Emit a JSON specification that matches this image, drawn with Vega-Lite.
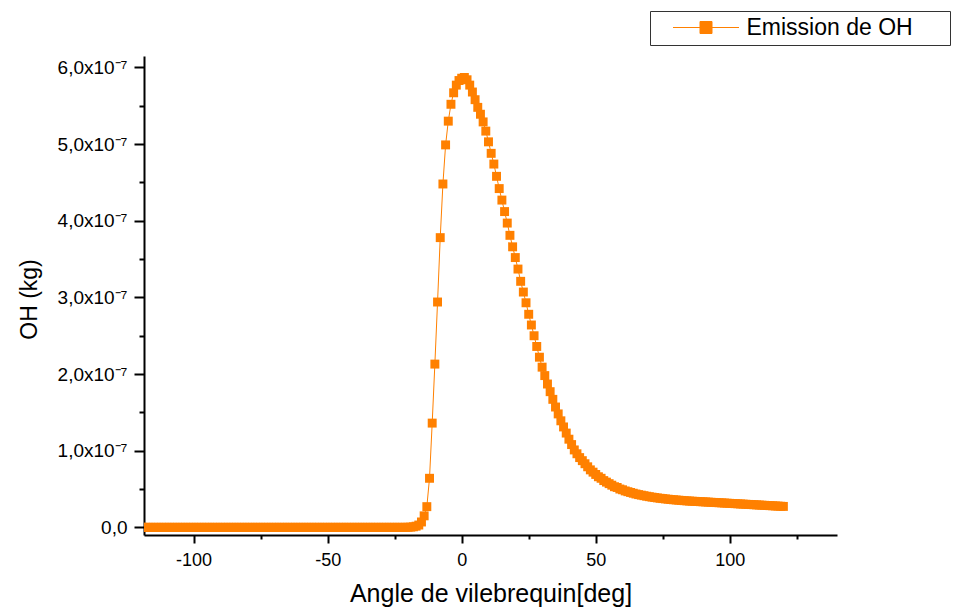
{
  "$schema": "https://vega.github.io/schema/vega-lite/v6.json",
  "width": 693,
  "height": 479,
  "autosize": "none",
  "padding": {"left": 144, "top": 56, "right": 118, "bottom": 73},
  "background": "white",
  "config": {"view": {"stroke": null}, "font": "Liberation Sans"},
  "data": {"values": [
    {"a":-120,"oh":0},{"a":-119,"oh":0},{"a":-118,"oh":0},{"a":-117,"oh":0},{"a":-116,"oh":0},{"a":-115,"oh":0},{"a":-114,"oh":0},{"a":-113,"oh":0},{"a":-112,"oh":0},{"a":-111,"oh":0},
    {"a":-110,"oh":0},{"a":-109,"oh":0},{"a":-108,"oh":0},{"a":-107,"oh":0},{"a":-106,"oh":0},{"a":-105,"oh":0},{"a":-104,"oh":0},{"a":-103,"oh":0},{"a":-102,"oh":0},{"a":-101,"oh":0},
    {"a":-100,"oh":0},{"a":-99,"oh":0},{"a":-98,"oh":0},{"a":-97,"oh":0},{"a":-96,"oh":0},{"a":-95,"oh":0},{"a":-94,"oh":0},{"a":-93,"oh":0},{"a":-92,"oh":0},{"a":-91,"oh":0},
    {"a":-90,"oh":0},{"a":-89,"oh":0},{"a":-88,"oh":0},{"a":-87,"oh":0},{"a":-86,"oh":0},{"a":-85,"oh":0},{"a":-84,"oh":0},{"a":-83,"oh":0},{"a":-82,"oh":0},{"a":-81,"oh":0},
    {"a":-80,"oh":0},{"a":-79,"oh":0},{"a":-78,"oh":0},{"a":-77,"oh":0},{"a":-76,"oh":0},{"a":-75,"oh":0},{"a":-74,"oh":0},{"a":-73,"oh":0},{"a":-72,"oh":0},{"a":-71,"oh":0},
    {"a":-70,"oh":0},{"a":-69,"oh":0},{"a":-68,"oh":0},{"a":-67,"oh":0},{"a":-66,"oh":0},{"a":-65,"oh":0},{"a":-64,"oh":0},{"a":-63,"oh":0},{"a":-62,"oh":0},{"a":-61,"oh":0},
    {"a":-60,"oh":0},{"a":-59,"oh":0},{"a":-58,"oh":0},{"a":-57,"oh":0},{"a":-56,"oh":0},{"a":-55,"oh":0},{"a":-54,"oh":0},{"a":-53,"oh":0},{"a":-52,"oh":0},{"a":-51,"oh":0},
    {"a":-50,"oh":0},{"a":-49,"oh":0},{"a":-48,"oh":0},{"a":-47,"oh":0},{"a":-46,"oh":0},{"a":-45,"oh":0},{"a":-44,"oh":0},{"a":-43,"oh":0},{"a":-42,"oh":0},{"a":-41,"oh":0},
    {"a":-40,"oh":0},{"a":-39,"oh":0},{"a":-38,"oh":0},{"a":-37,"oh":0},{"a":-36,"oh":0},{"a":-35,"oh":0},{"a":-34,"oh":0},{"a":-33,"oh":0},{"a":-32,"oh":0},{"a":-31,"oh":0},
    {"a":-30,"oh":0},{"a":-29,"oh":0},{"a":-28,"oh":0},{"a":-27,"oh":0},{"a":-26,"oh":0},{"a":-25,"oh":0},{"a":-24,"oh":0},{"a":-23,"oh":0},{"a":-22,"oh":0},{"a":-21,"oh":0},
    {"a":-20,"oh":1e-10},{"a":-19,"oh":3e-10},{"a":-18,"oh":7e-10},{"a":-17,"oh":1.5e-9},{"a":-16,"oh":3e-9},{"a":-15,"oh":7e-9},{"a":-14,"oh":1.5e-8},{"a":-13,"oh":2.7e-8},{"a":-12,"oh":6.4e-8},{"a":-11,"oh":1.36e-7},
    {"a":-10,"oh":2.13e-7},{"a":-9,"oh":2.94e-7},{"a":-8,"oh":3.78e-7},{"a":-7,"oh":4.48e-7},{"a":-6,"oh":4.99e-7},{"a":-5,"oh":5.30e-7},{"a":-4,"oh":5.52e-7},{"a":-3,"oh":5.67e-7},{"a":-2,"oh":5.77e-7},{"a":-1,"oh":5.83e-7},
    {"a":0,"oh":5.86e-7},{"a":1,"oh":5.87e-7},{"a":2,"oh":5.84e-7},{"a":3,"oh":5.77e-7},{"a":4,"oh":5.68e-7},{"a":5,"oh":5.58e-7},{"a":6,"oh":5.48e-7},{"a":7,"oh":5.39e-7},{"a":8,"oh":5.29e-7},{"a":9,"oh":5.17e-7},
    {"a":10,"oh":5.03e-7},{"a":11,"oh":4.88e-7},{"a":12,"oh":4.74e-7},{"a":13,"oh":4.58e-7},{"a":14,"oh":4.42e-7},{"a":15,"oh":4.27e-7},{"a":16,"oh":4.12e-7},{"a":17,"oh":3.97e-7},{"a":18,"oh":3.81e-7},{"a":19,"oh":3.66e-7},
    {"a":20,"oh":3.52e-7},{"a":21,"oh":3.37e-7},{"a":22,"oh":3.21e-7},{"a":23,"oh":3.07e-7},{"a":24,"oh":2.93e-7},{"a":25,"oh":2.78e-7},{"a":26,"oh":2.64e-7},{"a":27,"oh":2.50e-7},{"a":28,"oh":2.36e-7},{"a":29,"oh":2.22e-7},
    {"a":30,"oh":2.09e-7},{"a":31,"oh":1.98e-7},{"a":32,"oh":1.87e-7},{"a":33,"oh":1.77e-7},{"a":34,"oh":1.67e-7},{"a":35,"oh":1.57e-7},{"a":36,"oh":1.48e-7},{"a":37,"oh":1.39e-7},{"a":38,"oh":1.31e-7},{"a":39,"oh":1.23e-7},
    {"a":40,"oh":1.15e-7},{"a":41,"oh":1.08e-7},{"a":42,"oh":1.01e-7},{"a":43,"oh":9.6e-8},{"a":44,"oh":9.1e-8},{"a":45,"oh":8.7e-8},{"a":46,"oh":8.3e-8},{"a":47,"oh":7.9e-8},{"a":48,"oh":7.5e-8},{"a":49,"oh":7.2e-8},
    {"a":50,"oh":6.9e-8},{"a":51,"oh":6.6e-8},{"a":52,"oh":6.4e-8},{"a":53,"oh":6.1e-8},{"a":54,"oh":5.9e-8},{"a":55,"oh":5.7e-8},{"a":56,"oh":5.5e-8},{"a":57,"oh":5.3e-8},{"a":58,"oh":5.2e-8},{"a":59,"oh":5.0e-8},
    {"a":60,"oh":4.9e-8},{"a":61,"oh":4.75e-8},{"a":62,"oh":4.65e-8},{"a":63,"oh":4.55e-8},{"a":64,"oh":4.45e-8},{"a":65,"oh":4.35e-8},{"a":66,"oh":4.27e-8},{"a":67,"oh":4.2e-8},{"a":68,"oh":4.13e-8},{"a":69,"oh":4.06e-8},
    {"a":70,"oh":4.0e-8},{"a":71,"oh":3.94e-8},{"a":72,"oh":3.89e-8},{"a":73,"oh":3.84e-8},{"a":74,"oh":3.79e-8},{"a":75,"oh":3.75e-8},{"a":76,"oh":3.71e-8},{"a":77,"oh":3.67e-8},{"a":78,"oh":3.63e-8},{"a":79,"oh":3.6e-8},
    {"a":80,"oh":3.57e-8},{"a":81,"oh":3.54e-8},{"a":82,"oh":3.51e-8},{"a":83,"oh":3.48e-8},{"a":84,"oh":3.45e-8},{"a":85,"oh":3.43e-8},{"a":86,"oh":3.41e-8},{"a":87,"oh":3.39e-8},{"a":88,"oh":3.37e-8},{"a":89,"oh":3.35e-8},
    {"a":90,"oh":3.33e-8},{"a":91,"oh":3.31e-8},{"a":92,"oh":3.29e-8},{"a":93,"oh":3.27e-8},{"a":94,"oh":3.25e-8},{"a":95,"oh":3.23e-8},{"a":96,"oh":3.21e-8},{"a":97,"oh":3.19e-8},{"a":98,"oh":3.17e-8},{"a":99,"oh":3.15e-8},
    {"a":100,"oh":3.13e-8},{"a":101,"oh":3.11e-8},{"a":102,"oh":3.09e-8},{"a":103,"oh":3.07e-8},{"a":104,"oh":3.05e-8},{"a":105,"oh":3.03e-8},{"a":106,"oh":3.01e-8},{"a":107,"oh":2.99e-8},{"a":108,"oh":2.97e-8},{"a":109,"oh":2.95e-8},
    {"a":110,"oh":2.93e-8},{"a":111,"oh":2.91e-8},{"a":112,"oh":2.89e-8},{"a":113,"oh":2.87e-8},{"a":114,"oh":2.85e-8},{"a":115,"oh":2.83e-8},{"a":116,"oh":2.81e-8},{"a":117,"oh":2.79e-8},{"a":118,"oh":2.77e-8},{"a":119,"oh":2.75e-8},
    {"a":120,"oh":2.73e-8}
  ]},
  "encoding": {
    "x": {
      "field": "a", "type": "quantitative",
      "scale": {"domain": [-118.5, 140], "nice": false, "zero": false},
      "axis": {
        "title": "Angle de vilebrequin[deg]",
        "values": [-100, -75, -50, -25, 0, 25, 50, 75, 100, 125],
        "labelExpr": "datum.value % 50 != 0 ? '' : toString(datum.value)",
        "tickSize": {"condition": {"test": "datum.value % 50 != 0", "value": 4}, "value": 8},
        "tickWidth": 2, "domainWidth": 2, "domainColor": "black", "tickColor": "black",
        "labelColor": "black", "labelFont": "Liberation Sans", "labelFontSize": 18,
        "labelBaseline": "alphabetic", "labelPadding": 22, "labelOverlap": false, "labelFlush": false,
        "grid": false,
        "titleFont": "Liberation Sans", "titleFontSize": 25, "titleFontWeight": "normal", "titleColor": "black",
        "titleBaseline": "alphabetic", "titleY": 66
      }
    },
    "y": {
      "field": "oh", "type": "quantitative",
      "scale": {"domain": [-1e-8, 6.15e-7], "nice": false, "zero": false},
      "axis": {
        "title": "OH (kg)",
        "values": [0, 5e-8, 1e-7, 1.5e-7, 2e-7, 2.5e-7, 3e-7, 3.5e-7, 4e-7, 4.5e-7, 5e-7, 5.5e-7, 6e-7],
        "labelExpr": "abs(datum.value) < 1e-12 ? '0,0' : (abs(datum.value*1e7 - round(datum.value*1e7)) > 0.25 ? '' : replace(format(datum.value*1e7, '.1f'), '.', ',') + 'x10⁻⁷')",
        "tickSize": {"condition": {"test": "abs(datum.value*1e7 - round(datum.value*1e7)) > 0.25", "value": 5}, "value": 10},
        "tickWidth": 2, "domainWidth": 2, "domainColor": "black", "tickColor": "black",
        "labelColor": "black", "labelFont": "Liberation Sans", "labelFontSize": 19,
        "labelPadding": 7, "labelOverlap": false, "labelFlush": false,
        "grid": false,
        "titleFont": "Liberation Sans", "titleFontSize": 23, "titleFontWeight": "normal", "titleColor": "black",
        "titleAngle": -90, "titleAlign": "center", "titleBaseline": "middle", "titleX": -115, "titleY": 243
      }
    }
  },
  "layer": [
    {
      "mark": {"type": "line", "color": "#FF8000", "strokeWidth": 1, "clip": true},
      "encoding": {
        "color": {
          "datum": "Emission de OH",
          "scale": {"range": ["#FF8000"]},
          "legend": {
            "title": null, "orient": "none", "legendX": 506, "legendY": -45,
            "padding": 5, "strokeColor": "#333333",
            "symbolType": "M-6.6,0H6.6M-1.2,-1.2H1.2V1.2H-1.2Z",
            "symbolSize": 100, "symbolOffset": 39.5, "labelOffset": 29,
            "symbolFillColor": "#FF8000", "symbolStrokeColor": "#FF8000", "symbolStrokeWidth": 1,
            "labelFont": "Liberation Sans", "labelFontSize": 23, "labelColor": "black", "labelLimit": 400,
            "labelExpr": "datum.label + '\u00a0\u00a0\u00a0\u00a0\u00a0\u200b'",
            "encode": {"symbols": {"update": {
              "fill": {"value": "#FF8000"}, "stroke": {"value": "#FF8000"},
              "strokeWidth": {"value": 1}, "opacity": {"value": 1}
            }}}
          }
        }
      }
    },
    {
      "mark": {"type": "point", "shape": "square", "filled": true, "size": 80, "opacity": 1, "clip": true, "color": "#FF8000"},
      "encoding": {}
    }
  ]
}
